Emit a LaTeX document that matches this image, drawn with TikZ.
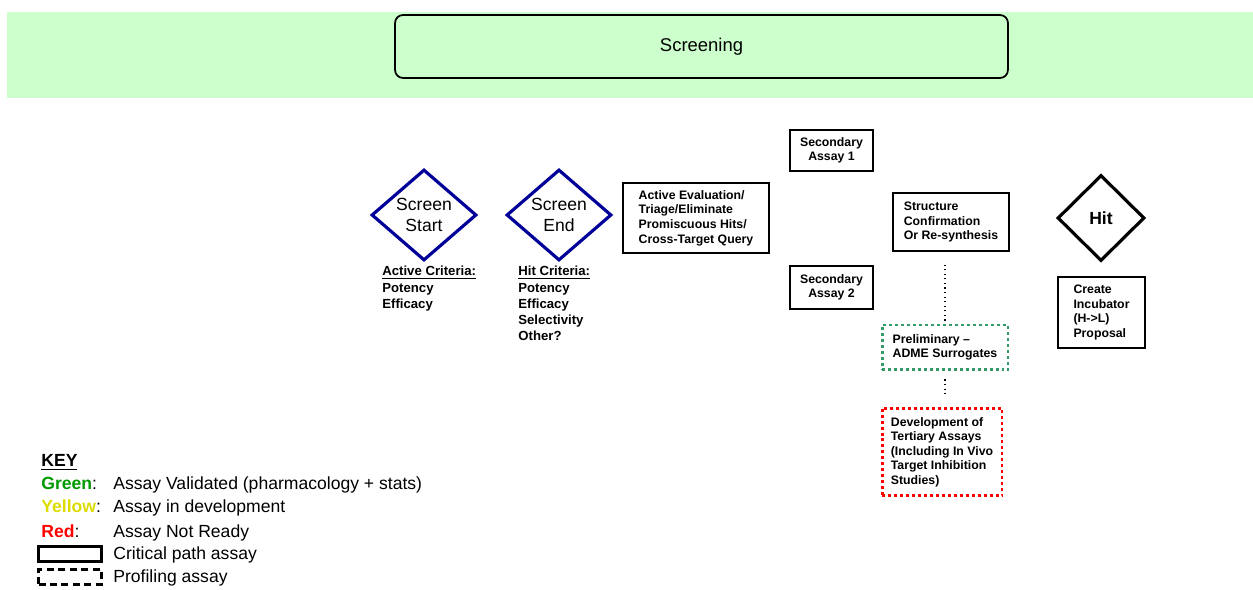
\documentclass[tikz,border=0pt]{standalone}
\usepackage{fontspec}
\setmainfont{Liberation Sans}
\usetikzlibrary{shapes.geometric}

\definecolor{bandgreen}{RGB}{204,255,204}
\definecolor{gatenavy}{RGB}{0,0,153}
\definecolor{okgreen}{RGB}{51,153,102}
\definecolor{keygreen}{RGB}{0,153,0}
\definecolor{keyyellow}{RGB}{220,220,0}
\definecolor{keyred}{RGB}{255,0,0}

\begin{document}
\begin{tikzpicture}[x = 0.02cm, y = -0.02cm,
        stage/.style = {draw, line width = 0.8pt, inner sep = 0pt, align = left,
            font = \fontsize{7}{8.3}\selectfont\bfseries},
        gate/.style = {diamond, draw, line width = 1.8pt, inner sep = 0pt, align = center},
        dotbox/.style = {stage, line width = 1.7pt, dash pattern = on 1.7pt off 1.7pt},
        crit/.style = {anchor = north west, inner sep = 0pt, align = left,
            font = \fontsize{7.5}{9.2}\selectfont\bfseries},
        keytext/.style = {anchor = base west, inner sep = 0pt, font = \fontsize{10}{12}\selectfont},
        link/.style = {dotted, line width = 0.6pt}]

        \useasboundingbox (0, 0) rectangle (1253, 590);

        % Green band across the top with the phase box.
        \fill[bandgreen] (7, 12) rectangle (1253, 98);
        \node[draw, line width = 1pt, rounded corners = 0.16cm, minimum width = 12.26cm,
            minimum height = 1.26cm, font = \fontsize{10.5}{12}\selectfont] (screening) at (701.5, 46.5) {Screening};

        % Decision diamonds.
        \node[gate, draw = gatenavy, minimum width = 2.1cm, minimum height = 1.82cm,
            font = \fontsize{10}{12}\selectfont] (start) at (424, 215) {Screen\\Start};
        \node[gate, draw = gatenavy, minimum width = 2.1cm, minimum height = 1.82cm,
            font = \fontsize{10}{12}\selectfont] (finish) at (559, 215) {Screen\\End};
        \node[gate, minimum width = 1.74cm, minimum height = 1.72cm,
            font = \fontsize{10}{12}\selectfont\bfseries] (hit) at (1101, 218) {Hit};

        % Criteria under the diamonds.
        \node[crit] (activecrit) at (382, 266) {\underline{Active Criteria:}\\Potency\\Efficacy};
        \node[crit] (hitcrit) at (518, 266) {\underline{Hit Criteria:}\\Potency\\Efficacy\\Selectivity\\Other?};

        % Assay boxes.
        \node[stage, minimum width = 2.92cm, minimum height = 1.4cm] (triage) at (696, 218)
            {Active Evaluation/\\Triage/Eliminate\\Promiscuous Hits/\\Cross-Target Query};
        \node[stage, align = center, minimum width = 1.66cm, minimum height = 0.82cm] (secone) at (831.5, 150.5)
            {Secondary\\Assay 1};
        \node[stage, align = center, minimum width = 1.66cm, minimum height = 0.86cm] (sectwo) at (831.5, 287.5)
            {Secondary\\Assay 2};
        \node[stage, minimum width = 2.32cm, minimum height = 1.16cm] (structure) at (951, 222)
            {Structure\\Confirmation\\Or Re-synthesis};
        \node[stage, minimum width = 1.74cm, minimum height = 1.42cm] (incubator) at (1101.5, 312.5)
            {Create\\Incubator\\(H->L)\\Proposal};
        \node[dotbox, draw = okgreen, minimum width = 2.52cm, minimum height = 0.9cm] (prelim) at (945, 347.5)
            {Preliminary --\\ADME Surrogates};
        \node[dotbox, draw = keyred, minimum width = 2.4cm, minimum height = 1.76cm] (tertiary) at (942, 452)
            {Development of\\Tertiary Assays\\(Including In Vivo\\Target Inhibition\\Studies)};

        % Dotted links between the boxes.
        \draw[link, shorten <= 0.06cm, shorten >= 0.22cm] (prelim.north) to (prelim.north |- structure.south);
        \draw[link, shorten <= 0.16cm, shorten >= 0.2cm] (prelim.south) to (prelim.south |- tertiary.north);

        % Key.
        \node[keytext, font = \fontsize{10}{12}\selectfont\bfseries] (key) at (41, 467) {\underline{KEY}};
        \node[keytext] (greenlab) at (41, 490) {\textcolor{keygreen}{\bfseries Green}:};
        \node[keytext] (greentxt) at (113, 490) {Assay Validated (pharmacology + stats)};
        \node[keytext] (yellowlab) at (41, 513) {\textcolor{keyyellow}{\bfseries Yellow}:};
        \node[keytext] (yellowtxt) at (113, 513) {Assay in development};
        \node[keytext] (redlab) at (41, 537) {\textcolor{keyred}{\bfseries Red}:};
        \node[keytext] (redtxt) at (113, 537) {Assay Not Ready};
        \node[draw, line width = 1.3pt, minimum width = 1.26cm, minimum height = 0.3cm] (critbox) at (70, 554) {};
        \node[keytext] (crittxt) at (113, 559) {Critical path assay};
        \node[draw, line width = 1.3pt, dash pattern = on 4pt off 2.5pt, minimum width = 1.26cm,
            minimum height = 0.3cm] (profbox) at (70, 577) {};
        \node[keytext] (proftxt) at (113, 582) {Profiling assay};
    \end{tikzpicture}
\end{document}
